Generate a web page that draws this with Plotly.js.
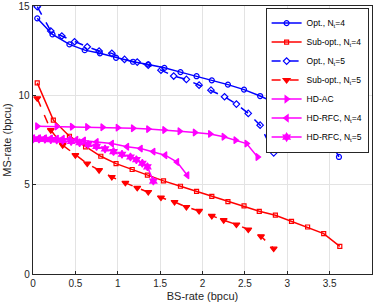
<!DOCTYPE html>
<html><head><meta charset="utf-8">
<script src="https://cdn.plot.ly/plotly-3.0.1.min.js"></script>
<style>html,body{margin:0;padding:0;background:#fff}#plot{width:374px;height:307px}</style>
</head><body><div id="plot"></div>
<script>
// Opt., Nt=4
const optN4_x = [0.05,0.23,0.43,0.61,0.79,0.98,1.18,1.36,1.55,1.74,1.93,2.11,2.30,2.49,2.68,2.87,3.05,3.24,3.43,3.61];
const optN4_y = [14.31,13.41,12.85,12.53,12.35,12.10,11.88,11.73,11.54,11.30,11.07,10.84,10.60,10.32,9.96,9.55,9.10,8.60,8.09,6.55];
// Sub-opt., Nt=4
const subN4_x = [0.05,0.24,0.43,0.62,0.80,0.98,1.17,1.35,1.54,1.74,1.93,2.11,2.30,2.49,2.67,2.86,3.05,3.24,3.43,3.62];
const subN4_y = [10.70,8.61,7.71,7.12,6.59,6.18,5.85,5.53,5.21,4.91,4.63,4.35,4.05,3.81,3.51,3.29,2.95,2.63,2.26,1.55];
// Opt., Nt=5
const optN5_x = [0.05,0.21,0.34,0.49,0.64,0.78,0.93,1.08,1.23,1.36,1.51,1.66,1.81,1.96,2.10,2.26,2.40,2.54,2.68,2.84];
const optN5_y = [14.96,13.60,13.32,13.00,12.72,12.48,12.35,12.01,11.86,11.69,11.41,11.08,10.89,10.57,10.29,9.92,9.51,8.99,8.33,6.78];
// Sub-opt., Nt=5
const subN5_x = [0.05,0.21,0.35,0.50,0.64,0.78,0.93,1.09,1.23,1.36,1.51,1.67,1.81,1.96,2.11,2.25,2.40,2.54,2.69,2.84];
const subN5_y = [9.83,8.05,7.21,6.65,6.18,5.81,5.43,5.10,4.82,4.59,4.28,4.03,3.75,3.53,3.25,3.01,2.77,2.49,2.11,1.42];
// HD-AC
const hdac_x = [0.05,0.28,0.46,0.64,0.82,1.00,1.18,1.36,1.55,1.73,1.91,2.09,2.25,2.39,2.52,2.65];
const hdac_y = [8.27,8.25,8.24,8.23,8.21,8.19,8.16,8.11,8.06,7.99,7.92,7.84,7.68,7.49,7.30,6.55];
// HD-RFC, Nt=4
const rfc4_x = [0.00,0.07,0.14,0.21,0.28,0.35,0.43,0.51,0.60,0.75,0.93,1.11,1.27,1.42,1.56,1.70,1.82];
const rfc4_y = [7.60,7.60,7.60,7.59,7.58,7.57,7.55,7.52,7.48,7.39,7.30,7.12,7.02,6.85,6.65,6.27,5.53];
// HD-RFC, Nt=5
const rfc5_x = [0.00,0.07,0.14,0.21,0.28,0.35,0.45,0.55,0.65,0.75,0.85,0.95,1.05,1.15,1.22,1.29,1.35,1.42];
const rfc5_y = [7.55,7.55,7.54,7.52,7.50,7.47,7.42,7.35,7.25,7.14,7.00,6.85,6.70,6.55,6.40,6.20,6.00,5.20];

const names = ['Opt., N<sub>t</sub>=4','Sub-opt., N<sub>t</sub>=4','Opt., N<sub>t</sub>=5','Sub-opt., N<sub>t</sub>=5','HD-AC','HD-RFC, N<sub>t</sub>=4','HD-RFC, N<sub>t</sub>=5'];
const xTicks = [0,0.5,1,1.5,2,2.5,3,3.5,4];
const xTickText = ['0','0.5','1','1.5','2','2.5','3','3.5','4'];
const yTicks = [0,5,10,15];

const BLUE='#0000ff', RED='#ff0000', MAG='#ff00ff';
function tr(x,y,name,color,dash,symbol,size){
  return {x:x,y:y,name:name,type:'scatter',mode:'lines+markers',
    line:{color:color,width:1.5,dash:dash},
    marker:{symbol:symbol,size:size,color:color,line:{color:color,width:1.2}}};
}
const data = [
  tr(optN4_x,optN4_y,names[0],BLUE,'solid','circle-open',5),
  tr(subN4_x,subN4_y,names[1],RED,'solid','square-open',4),
  tr(optN5_x,optN5_y,names[2],BLUE,'dash','diamond-open',5),
  tr(subN5_x,subN5_y,names[3],RED,'dash','triangle-down',6),
  tr(hdac_x,hdac_y,names[4],MAG,'solid','triangle-right',6),
  tr(rfc4_x,rfc4_y,names[5],MAG,'solid','triangle-left',6),
  tr(rfc5_x,rfc5_y,names[6],MAG,'solid','hexagram',6)
];
const F = 'Liberation Sans, Arial, Helvetica, sans-serif';
const layout = {
  width:374,height:307,
  margin:{l:33,r:2,t:6,b:33},
  paper_bgcolor:'#fff',plot_bgcolor:'#fff',
  font:{family:F,size:10,color:'#262626'},
  showlegend:true,
  legend:{x:0.99,y:0.994,xanchor:'right',yanchor:'top',bgcolor:'#fff',
    bordercolor:'#262626',borderwidth:1,font:{family:F,size:8.5,color:'#000'},
    tracegroupgap:0,itemwidth:30},
  xaxis:{range:[0,4],tickvals:xTicks,ticktext:xTickText,showgrid:true,gridcolor:'#e3e3e3',gridwidth:1,
    zeroline:false,showline:true,linecolor:'#262626',linewidth:1.3,mirror:true,
    ticks:'inside',ticklen:3,tickcolor:'#262626',
    title:{text:'BS-rate (bpcu)',font:{family:F,size:11,color:'#262626'},standoff:4}},
  yaxis:{range:[0,15],tickvals:yTicks,showgrid:true,gridcolor:'#e3e3e3',gridwidth:1,
    zeroline:false,showline:true,linecolor:'#262626',linewidth:1.3,mirror:true,
    ticks:'inside',ticklen:3,tickcolor:'#262626',
    title:{text:'MS-rate (bpcu)',font:{family:F,size:11,color:'#262626'},standoff:4}}
};
Plotly.newPlot('plot',data,layout,{staticPlot:true,displayModeBar:false});
</script></body></html>
